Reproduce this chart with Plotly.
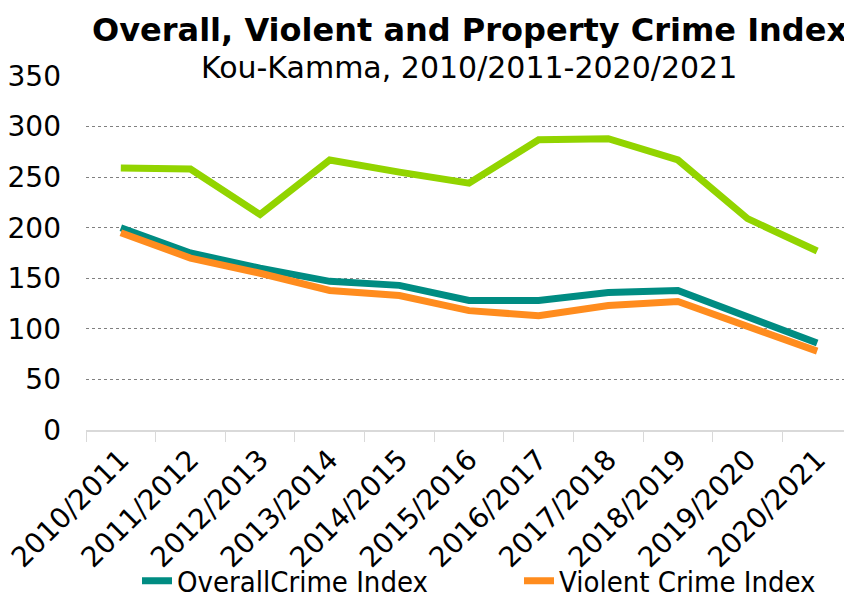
import plotly.graph_objects as go

years = ["2010/2011", "2011/2012", "2012/2013", "2013/2014", "2014/2015", "2015/2016",
         "2016/2017", "2017/2018", "2018/2019", "2019/2020", "2020/2021"]
overall = [200, 175, 160, 147, 143, 128, 128, 136, 138, 112, 86]
violent = [195, 170, 155, 138, 133, 118, 113, 123, 127, 102, 78]
property_ = [259, 258, 213, 267, 255, 244, 287, 288, 267, 209, 177]

FONT = "DejaVu Sans"

fig = go.Figure()
fig.add_trace(go.Scatter(x=years, y=overall, mode="lines", name="OverallCrime Index",
                         line=dict(color="#008C82", width=7)))
fig.add_trace(go.Scatter(x=years, y=violent, mode="lines", name="Violent Crime Index",
                         line=dict(color="#FF8C1E", width=7)))
fig.add_trace(go.Scatter(x=years, y=property_, mode="lines", name="Property Crime Index",
                         line=dict(color="#92D400", width=7), showlegend=False))

W, H = 852, 596
L, R, T, B = 78, 8, 68, 174
ph = H - T - B
pw = W - L - R

fig.update_layout(
    width=W, height=H,
    margin=dict(l=L, r=R, t=T, b=B, autoexpand=False),
    paper_bgcolor="white", plot_bgcolor="white",
    font=dict(family=FONT, size=28, color="black"),
    showlegend=True,
    legend=dict(orientation="h", x=(129 - L) / pw, xanchor="left",
                y=-(573 - (H - B)) / ph, yanchor="middle",
                font=dict(family="DejaVu Sans Condensed", size=29),
                entrywidth=337, tracegroupgap=0, bgcolor="rgba(0,0,0,0)"),
    annotations=[
        dict(text="<b>Overall, Violent and Property Crime Index</b>", x=0.5, xref="paper",
             y=(H - B - 22) / ph, yref="paper", yanchor="middle", showarrow=False,
             font=dict(size=32, family=FONT)),
        dict(text="Kou-Kamma, 2010/2011-2020/2021", x=0.5, xref="paper",
             y=(H - B - 59) / ph, yref="paper", yanchor="middle", showarrow=False,
             font=dict(size=30, family=FONT)),
    ],
)

fig.update_xaxes(type="category", range=[-0.5, 10.5], tickangle=-45, tickson="boundaries",
                 ticks="outside", ticklen=10, tickcolor="#d9d9d9", showline=True,
                 linecolor="#d9d9d9", linewidth=2, showgrid=False, automargin=False,
                 tickfont=dict(size=28))
fig.update_yaxes(range=[0, 350], dtick=50, showgrid=True, gridcolor="#808080",
                 griddash="dot", gridwidth=1, zeroline=False, showline=False,
                 automargin=False, ticklabelstandoff=24, tickfont=dict(size=28))

fig.write_html("out.html")
